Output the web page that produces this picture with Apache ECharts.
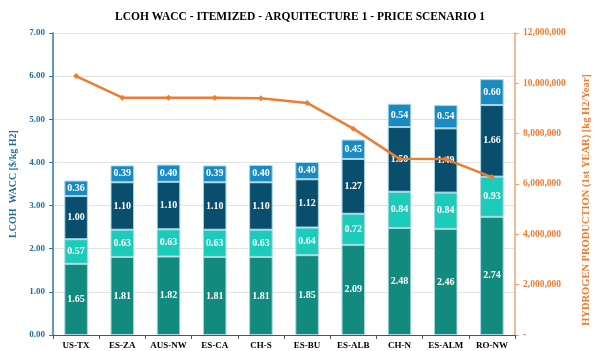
<!DOCTYPE html>
<html>
<head>
<meta charset="utf-8">
<script src="https://cdn.jsdelivr.net/npm/echarts@6/dist/echarts.min.js"></script>
<style>
  html, body { margin: 0; padding: 0; background: #fff; }
  #chart { width: 600px; height: 351px; }
</style>
</head>
<body>
<div id="chart"></div>
<script>
// categories and values
var categories = ['US-TX', 'ES-ZA', 'AUS-NW', 'ES-CA', 'CH-S', 'ES-BU', 'ES-ALB', 'CH-N', 'ES-ALM', 'RO-NW'];
var part1 = [1.65, 1.81, 1.82, 1.81, 1.81, 1.85, 2.09, 2.48, 2.46, 2.74];
var part2 = [0.57, 0.63, 0.63, 0.63, 0.63, 0.64, 0.72, 0.84, 0.84, 0.93];
var part3 = [1.00, 1.10, 1.10, 1.10, 1.10, 1.12, 1.27, 1.50, 1.49, 1.66];
var part4 = [0.36, 0.39, 0.40, 0.39, 0.40, 0.40, 0.45, 0.54, 0.54, 0.60];
var production = [10290000, 9430000, 9430000, 9430000, 9410000, 9220000, 8200000, 7000000, 6990000, 6270000];

var serif = '"Liberation Serif", "DejaVu Serif", serif';
var blueTxt = '#1f6f9c';
var orange = '#ed7d31';

var myChart = echarts.init(document.getElementById('chart'));

function barSeries(name, data, color) {
  return {
    name: name,
    type: 'bar',
    stack: 'lcoh',
    yAxisIndex: 0,
    data: data,
    barWidth: '51%',
    itemStyle: { color: color, borderColor: '#a9d8e4', borderWidth: 1 },
    label: {
      show: true,
      position: 'inside',
      color: '#fff',
      fontFamily: serif,
      fontWeight: 'bold',
      fontSize: 10,
      formatter: function (p) { return p.value.toFixed(2); }
    }
  };
}

var option = {
  animation: false,
  title: {
    text: 'LCOH WACC - ITEMIZED - ARQUITECTURE 1 - PRICE SCENARIO 1',
    left: 'center',
    top: 6,
    textStyle: { fontFamily: serif, fontWeight: 'bold', fontSize: 11.5, color: '#000' }
  },
  grid: { left: 53, right: 73, top: 33, bottom: 16 },
  xAxis: {
    type: 'category',
    data: categories,
    axisLine: { lineStyle: { color: '#555', width: 1 } },
    axisTick: { show: true, length: 4, lineStyle: { color: '#555' } },
    axisLabel: { interval: 0, color: '#000', fontFamily: serif, fontWeight: 'bold', fontSize: 9, margin: 6 }
  },
  yAxis: [
    {
      type: 'value',
      min: 0, max: 7, interval: 1,
      name: 'LCOH  WACC [$/kg H2]',
      nameLocation: 'middle',
      nameGap: 33,
      nameTextStyle: { color: blueTxt, fontFamily: serif, fontWeight: 'bold', fontSize: 10 },
      axisLine: { show: true, lineStyle: { color: '#2a7aa8', width: 1.5 } },
      axisTick: { show: true, length: 4, lineStyle: { color: '#2a7aa8' } },
      axisLabel: {
        color: blueTxt, fontFamily: serif, fontWeight: 'bold', fontSize: 9,
        formatter: function (v) { return v.toFixed(2); }
      },
      splitLine: { lineStyle: { color: '#e3e3e3' } }
    },
    {
      type: 'value',
      min: 0, max: 12000000, interval: 2000000,
      name: 'HYDROGEN PRODUCTION (1st YEAR) [kg H2/Year]',
      nameLocation: 'middle',
      nameGap: 66,
      nameRotate: 90,
      nameTextStyle: {
        color: orange, fontFamily: serif, fontWeight: 'bold', fontSize: 10.5,
        padding: [0, 32, 0, 0]
      },
      position: 'right',
      axisLine: { show: true, lineStyle: { color: '#f4a070', width: 1.5 } },
      axisTick: { show: true, length: 4, lineStyle: { color: '#f4a070' } },
      axisLabel: {
        color: orange, fontFamily: serif, fontWeight: 'bold', fontSize: 9.5,
        formatter: function (v) { return v === 0 ? '-' : v.toLocaleString('en-US'); }
      },
      splitLine: { show: false }
    }
  ],
  series: [
    barSeries('Part 1', part1, '#128a7d'),
    barSeries('Part 2', part2, '#1ccbb9'),
    barSeries('Part 3', part3, '#0a4e6e'),
    barSeries('Part 4', part4, '#1a8ac2'),
    {
      name: 'Production',
      type: 'line',
      yAxisIndex: 1,
      data: production,
      z: 5,
      symbol: 'diamond',
      symbolSize: 6,
      lineStyle: { color: orange, width: 2.5 },
      itemStyle: { color: orange }
    }
  ]
};

myChart.setOption(option);
</script>
</body>
</html>
